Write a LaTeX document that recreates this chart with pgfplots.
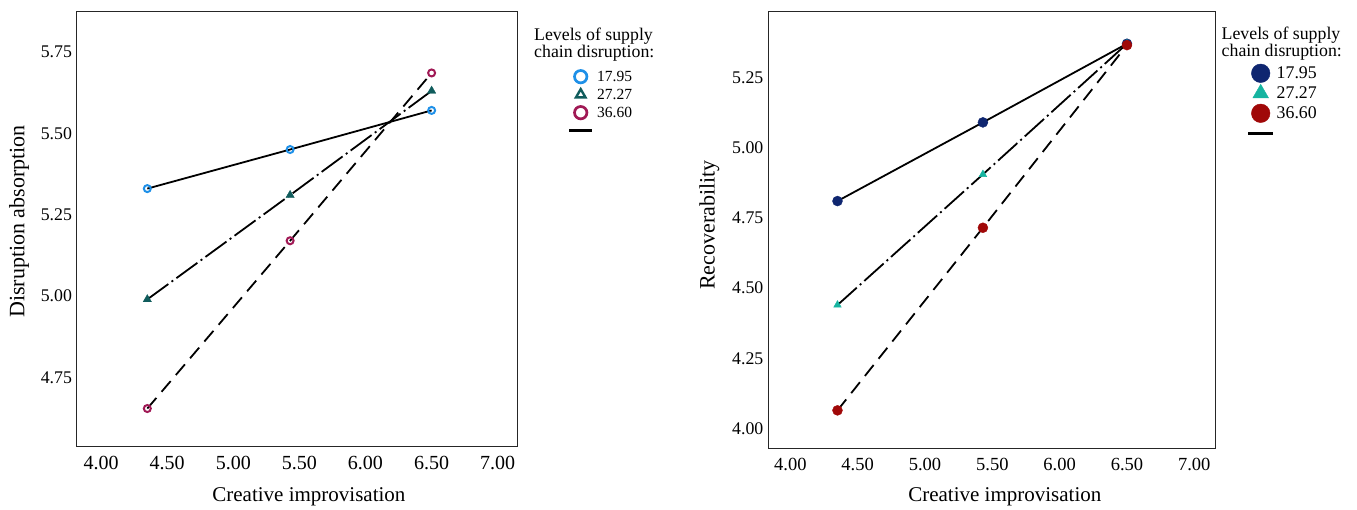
\documentclass[border=0pt]{standalone}
\usepackage{fontspec}
\setmainfont{Liberation Serif}
\usepackage{pgfplots}
\usepackage{pgfplotstable}
\pgfplotsset{compat=1.18}

\definecolor{lblue}{RGB}{30,144,232}
\definecolor{lteal}{RGB}{16,92,92}
\definecolor{lmaroon}{RGB}{160,25,85}
\definecolor{rnavy}{RGB}{15,38,112}
\definecolor{rteal}{RGB}{22,180,160}
\definecolor{rred}{RGB}{160,8,8}

% x = creative improvisation (mean -1SD, mean, +1SD)
% a/b/c = supply chain disruption 17.95 / 27.27 / 36.60
\pgfplotstableread{
x     a      b      c
4.35  5.330  4.990  4.655
5.43  5.450  5.310  5.170
6.50  5.570  5.630  5.685
}\absorbtab

\pgfplotstableread{
x     a      b      c
4.35  4.810  4.440  4.065
5.43  5.090  4.905  4.715
6.50  5.370  5.370  5.365
}\recovtab

\pgfplotsset{
  spssbox/.style={
    scale only axis,
    anchor=north west,
    axis line style={black!85, line width=1pt},
    major tick length=0pt,
    tick style={draw=none},
    xtick={4,4.5,5,5.5,6,6.5,7},
    /pgf/number format/fixed,
    /pgf/number format/fixed zerofill,
    /pgf/number format/precision=2,
    /pgf/number format/assume math mode=true,
    yticklabel style={font=\fontsize{17.8}{17.8}\selectfont, inner sep=0pt, xshift=-4.5pt},
    xlabel={Creative improvisation},
    xlabel style={anchor=center, inner sep=0pt, font=\fontsize{21}{21}\selectfont},
    ylabel style={anchor=center, inner sep=0pt, font=\fontsize{22}{22}\selectfont},
    legend cell align=left,
    legend image code/.code={
      \pgfpathrectangle{\pgfpoint{-12pt}{-9pt}}{\pgfpoint{24pt}{18pt}}%
      \pgfusepath{use as bounding box}%
      \draw[#1, mark repeat=2, mark phase=2] plot coordinates {(-11.7pt,0pt) (0pt,0pt) (11.7pt,0pt)};
    },
  },
  l17/.style={black, line width=1.8pt, solid},
  l27/.style={black, line width=1.8pt, dash pattern=on 26pt off 4pt on 2pt off 4pt},
  l36/.style={black, line width=1.8pt, dash pattern=on 14pt off 8pt},
}

\begin{document}
\begin{tikzpicture}
\useasboundingbox (0pt,0pt) rectangle (1357pt,-510pt);

% ---- left: disruption absorption ----
\begin{axis}[spssbox,
  at={(76.7pt,-11.7pt)},
  width=440.6pt, height=434.3pt,
  xmin=3.816, xmax=7.148, ymin=4.54, ymax=5.873,
  ytick={4.75,5,5.25,5.5,5.75},
  xticklabel style={font=\fontsize{20}{20}\selectfont, inner sep=0pt, yshift=-10pt},
  xlabel style={at={(axis description cs:0.527,-0.1174)}},
  ylabel={Disruption absorption},
  ylabel style={at={(axis description cs:-0.131,0.517)}},
  legend style={at={(axis description cs:1.1167,0.8711)}, anchor=north west,
    draw=none, fill=none, inner sep=0pt, outer sep=0pt,
    row sep=0pt, column sep=4.5pt, nodes={inner sep=0pt},
    font=\fontsize{15.5}{15.5}\selectfont},
]
\addplot[forget plot, only marks, mark=o, mark size=3.5pt, line width=2pt, lblue] table[x=x, y=a] {\absorbtab};
\addplot[forget plot, only marks, mark=triangle*, mark size=4.8pt, lteal] table[x=x, y=b] {\absorbtab};
\addplot[forget plot, only marks, mark=o, mark size=3.5pt, line width=2pt, lmaroon] table[x=x, y=c] {\absorbtab};
\addplot[forget plot, l17] table[x=x, y=a] {\absorbtab};
\addplot[forget plot, l27] table[x=x, y=b] {\absorbtab};
\addplot[forget plot, l36] table[x=x, y=c] {\absorbtab};

\addlegendimage{only marks, mark=o, mark size=6.2pt, line width=2.7pt, lblue}
\addlegendentry{17.95}
\addlegendimage{only marks, mark=triangle, mark size=5.5pt, line width=2.4pt, lteal}
\addlegendentry{27.27}
\addlegendimage{only marks, mark=o, mark size=6.2pt, line width=2.7pt, lmaroon}
\addlegendentry{36.60}
\addlegendimage{black, line width=3pt, solid}
\addlegendentry{\mbox{}}
\end{axis}

% ---- right: recoverability ----
\begin{axis}[spssbox,
  at={(768pt,-11.7pt)},
  width=447.7pt, height=436.6pt,
  xmin=3.834, xmax=7.159, ymin=3.93, ymax=5.484,
  ytick={4,4.25,4.5,4.75,5,5.25},
  xticklabel style={font=\fontsize{18.5}{18.5}\selectfont, inner sep=0pt, yshift=-10pt},
  xlabel style={at={(axis description cs:0.529,-0.1115)}},
  ylabel={Recoverability},
  ylabel style={at={(axis description cs:-0.1307,0.511)}},
  legend image code/.code={
    \pgfpathrectangle{\pgfpoint{-12pt}{-10pt}}{\pgfpoint{24pt}{20pt}}%
    \pgfusepath{use as bounding box}%
    \draw[#1, mark repeat=2, mark phase=2] plot coordinates {(-12.3pt,0pt) (0pt,0pt) (12.3pt,0pt)};
  },
  legend style={at={(axis description cs:1.0737,0.8818)}, anchor=north west,
    draw=none, fill=none, inner sep=0pt, outer sep=0pt,
    row sep=0pt, column sep=4pt, nodes={inner sep=0pt},
    font=\fontsize{17.8}{17.8}\selectfont},
]
\addplot[forget plot, only marks, mark=*, mark size=5pt, rnavy] table[x=x, y=a] {\recovtab};
\addplot[forget plot, only marks, mark=triangle*, mark size=4.4pt, rteal] table[x=x, y=b] {\recovtab};
\addplot[forget plot, only marks, mark=*, mark size=5pt, rred] table[x=x, y=c] {\recovtab};
\addplot[forget plot, l17] table[x=x, y=a] {\recovtab};
\addplot[forget plot, l27] table[x=x, y=b] {\recovtab};
\addplot[forget plot, l36] table[x=x, y=c] {\recovtab};

\addlegendimage{only marks, mark=*, mark size=9.3pt, rnavy}
\addlegendentry{17.95}
\addlegendimage{only marks, mark=triangle*, mark size=9pt, rteal}
\addlegendentry{27.27}
\addlegendimage{only marks, mark=*, mark size=9.3pt, rred}
\addlegendentry{36.60}
\addlegendimage{black, line width=3pt, solid}
\addlegendentry{\mbox{}}
\end{axis}

\node[anchor=north west, inner sep=0pt, align=left, font=\fontsize{17.8}{16.5}\selectfont]
  at (534pt,-28pt) {Levels of supply\\chain disruption:};
\node[anchor=north west, inner sep=0pt, align=left, font=\fontsize{17.8}{16.5}\selectfont]
  at (1221.5pt,-27pt) {Levels of supply\\chain disruption:};
\end{tikzpicture}
\end{document}
